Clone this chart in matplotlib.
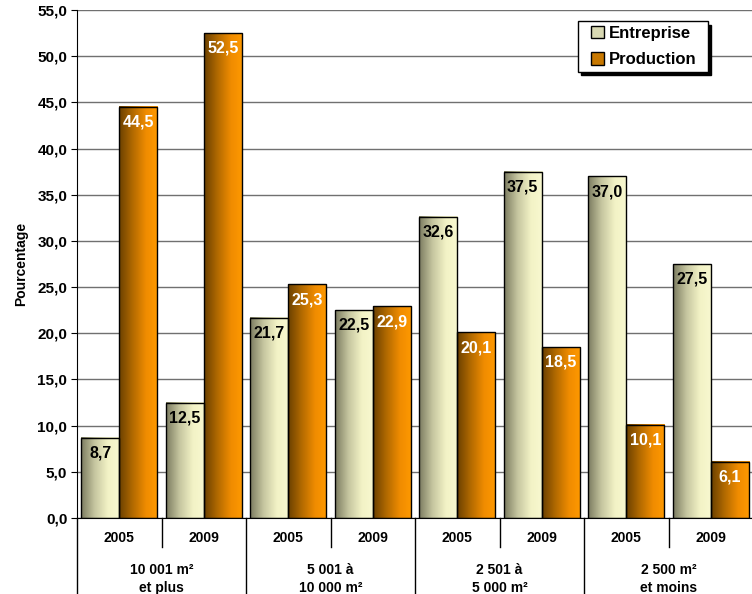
import numpy as np
import matplotlib.pyplot as plt
import matplotlib.transforms as mtransforms
from matplotlib.colors import LinearSegmentedColormap
from matplotlib.patches import Patch, Rectangle

plt.rcParams['font.family'] = ['Liberation Sans', 'DejaVu Sans']
plt.rcParams['font.weight'] = 'bold'

years = ['2005', '2009'] * 4
sizes = ['10 001 m²\net plus', '5 001 à\n10 000 m²', '2 501 à\n5 000 m²', '2 500 m²\net moins']
entreprise = [8.7, 12.5, 21.7, 22.5, 32.6, 37.5, 37.0, 27.5]
production = [44.5, 52.5, 25.3, 22.9, 20.1, 18.5, 10.1, 6.1]

cmap_e = LinearSegmentedColormap.from_list(
    'ent', [(0, '#7b7b60'), (0.35, '#c6c6a0'), (0.7, '#f3f3c6'), (1, '#f8f8d0')])
cmap_p = LinearSegmentedColormap.from_list(
    'prod', [(0, '#6a4000'), (0.35, '#b26a00'), (0.7, '#f08c00'), (1, '#ff9900')])

fig = plt.figure(figsize=(7.52, 5.94), dpi=100)
ax = fig.add_axes([77 / 752, 1 - 518 / 594, 676 / 752, 508 / 594])

x = np.arange(len(years))
w = 0.45
bars_e = ax.bar(x - w / 2, entreprise, w, facecolor='none', edgecolor='black', lw=1, zorder=3)
bars_p = ax.bar(x + w / 2, production, w, facecolor='none', edgecolor='black', lw=1, zorder=3)


def fill_gradient(bars, cmap):
    grad = np.linspace(0, 1, 128).reshape(1, -1)
    for b in bars:
        x0 = b.get_x()
        ax.imshow(grad, cmap=cmap, extent=(x0, x0 + b.get_width(), 0, b.get_height()),
                  aspect='auto', zorder=2, interpolation='bilinear')


fill_gradient(bars_e, cmap_e)
fill_gradient(bars_p, cmap_p)

# value labels inside the top of each bar
for bars, vals, col in [(bars_e, entreprise, 'black'), (bars_p, production, 'white')]:
    for b, v in zip(bars, vals):
        ax.annotate(f"{v:.1f}".replace('.', ','), (b.get_x() + b.get_width() / 2, v),
                    xytext=(0, -11), textcoords='offset points', ha='center', va='center',
                    color=col, fontsize=11.5, fontweight='bold', zorder=5)

ax.set_xlim(-0.5, len(years) - 0.5)
ax.set_ylim(0, 55)
yt = np.arange(0, 56, 5)
ax.set_yticks(yt)
ax.set_yticklabels([f"{v:.1f}".replace('.', ',') for v in yt])
ax.tick_params(axis='y', direction='out', length=4, labelsize=11, pad=3)
ax.set_xticks([])
ax.yaxis.grid(True, color='#707070', lw=1)
ax.set_axisbelow(True)
for s in ['top', 'right']:
    ax.spines[s].set_visible(False)
ax.spines['left'].set_color('black')
ax.spines['bottom'].set_color('black')

ax.set_ylabel('Pourcentage', fontsize=10, fontweight='bold')
ax.yaxis.set_label_coords(-0.073, 0.5)

# two-level category table under the axis
trans = mtransforms.blended_transform_factory(ax.transData, ax.transAxes)
for i, b in enumerate(np.arange(-0.5, len(years), 1)):
    low = -76 / 508 if i % 2 == 0 else -29 / 508
    ax.plot([b, b], [0, low], color='black', lw=1, transform=trans, clip_on=False)
for xi, yr in zip(x, years):
    ax.text(xi, -20 / 508, yr, transform=trans, ha='center', va='center', fontsize=10)
for k, lab in enumerate(sizes):
    ax.text(2 * k + 0.5, -61 / 508, lab, transform=trans, ha='center', va='center',
            fontsize=10, linespacing=1.35)

# legend box with a hard black drop shadow
lx0, lx1 = 0.741, 0.933
ly0, ly1 = 0.878, 0.978
dx, dy = 3.5 / 676, 3.5 / 508
ax.add_patch(Rectangle((lx0 + dx, ly0 - dy), lx1 - lx0, ly1 - ly0, transform=ax.transAxes,
                       facecolor='black', edgecolor='black', zorder=6, clip_on=False))
ax.add_patch(Rectangle((lx0, ly0), lx1 - lx0, ly1 - ly0, transform=ax.transAxes,
                       facecolor='white', edgecolor='black', lw=1, zorder=6.5, clip_on=False))

handles = [Patch(facecolor='#d8d8b2', edgecolor='black', label='Entreprise'),
           Patch(facecolor='#c87800', edgecolor='black', label='Production')]
leg = ax.legend(handles=handles, loc='center',
                bbox_to_anchor=((lx0 + lx1) / 2 + 1 / 676, (ly0 + ly1) / 2),
                borderaxespad=0, frameon=False, prop={'size': 12, 'weight': 'bold'},
                handlelength=0.75, handleheight=0.75, handletextpad=0.3, labelspacing=0.7,
                borderpad=0)
leg.set_zorder(7)

fig.savefig('out.png', dpi=100)
